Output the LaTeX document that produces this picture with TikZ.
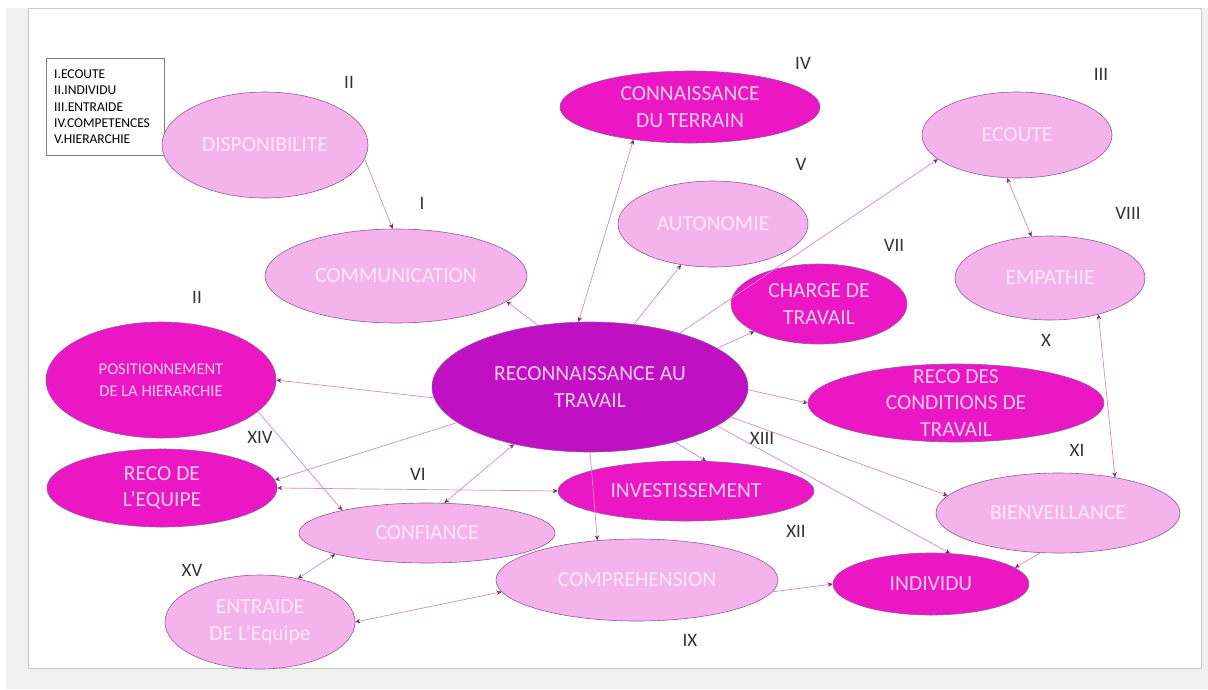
\documentclass[tikz,border=0pt]{standalone}
\usepackage{fontspec}
\setmainfont{Carlito}
\usetikzlibrary{shapes, arrows.meta, positioning}

\definecolor{pale}{HTML}{F5B3EC}
\definecolor{paletext}{HTML}{FDE8FA}
\definecolor{hot}{HTML}{EB17C4}
\definecolor{hottext}{HTML}{F9CCEF}
\definecolor{deep}{HTML}{BF10C4}
\definecolor{rim}{HTML}{8E5C9E}
\definecolor{linkcol}{HTML}{D68BC6}
\definecolor{tipcol}{HTML}{7D2A6E}
\definecolor{numcol}{HTML}{333333}
\definecolor{outside}{HTML}{F0F0F0}
\definecolor{frame}{HTML}{C8C8C8}

\begin{document}
\begin{tikzpicture}[x=1pt,y=-1pt,
soft/.style={ellipse,draw=rim,line width=.6pt,fill=pale,text=paletext,inner sep=0pt,align=center,font=\fontsize{21.5}{26.5}\selectfont},
strong/.style={soft,fill=hot,text=hottext},
core/.style={soft,fill=deep,text=hottext},
wh/.style 2 args={minimum width=#1,minimum height=#2},
num/.style={text=numcol,inner sep=0pt,font=\fontsize{19}{22}\selectfont},
link/.style={draw=linkcol,line width=.7pt,-{Stealth[length=5pt,width=4.5pt,color=tipcol]}},
twolink/.style={draw=linkcol,line width=.7pt,{Stealth[length=5pt,width=4.5pt,color=tipcol]}-{Stealth[length=5pt,width=4.5pt,color=tipcol]}}]

\useasboundingbox (0,0) rectangle (1208,689);
\fill[white] (0,0) rectangle (1208,689);
\fill[outside] (6,8) rectangle (1208,689);
\draw[frame, fill=white] (28,8) rectangle (1201,668);

% legend
\node[draw=gray, fill=white, anchor=north west, align=left, text width=102pt, minimum height=97pt,
  inner xsep=8pt, inner ysep=4pt, font=\fontsize{13.5}{16.3}\selectfont] (legend) at (46,58)
  {I.ECOUTE\\II.INDIVIDU\\III.ENTRAIDE\\IV.COMPETENCES\\V.HIERARCHIE};

% ellipses
\node[soft, wh={206pt}{106pt}] (dispo) at (265,145) {DISPONIBILITE};
\node[soft, wh={262pt}{94pt}] (comm) at (396,276) {COMMUNICATION};
\node[strong, wh={260pt}{72pt}] (terrain) at (690,107) {CONNAISSANCE\\DU TERRAIN};
\node[soft, wh={190pt}{86pt}] (auto) at (713,224) {AUTONOMIE};
\node[soft, wh={190pt}{86pt}] (ecoute) at (1017,135) {ECOUTE};
\node[soft, wh={190pt}{84pt}] (empathie) at (1050,278) {EMPATHIE};
\node[strong, wh={176pt}{80pt}] (charge) at (819,304) {CHARGE DE\\TRAVAIL};
\node[strong, wh={230pt}{116pt}, font=\fontsize{16.5}{22}\selectfont] (hier) at (161,380) {POSITIONNEMENT\\DE LA HIERARCHIE};
\node[core, wh={316pt}{130pt}] (reco) at (590,387) {RECONNAISSANCE AU\\TRAVAIL};
\node[strong, wh={296pt}{78pt}, inner ysep=-16pt] (conditions) at (956,403) {RECO DES\\CONDITIONS DE\\TRAVAIL};
\node[strong, wh={230pt}{78pt}] (equipe) at (162,488) {RECO DE\\L'EQUIPE};
\node[soft, wh={256pt}{60pt}] (confiance) at (427,533) {CONFIANCE};
\node[strong, wh={256pt}{60pt}] (invest) at (686,491) {INVESTISSEMENT};
\node[soft, wh={282pt}{82pt}] (comprehension) at (637,580) {COMPREHENSION};
\node[soft, wh={190pt}{94pt}] (entraide) at (260,622) {ENTRAIDE\\DE L'Equipe};
\node[soft, wh={244pt}{80pt}] (bienveillance) at (1058,513) {BIENVEILLANCE};
\node[strong, wh={196pt}{62pt}] (individu) at (931,584) {INDIVIDU};

% numbers
\node[num] (nII) at (349,82) {II};
\node[num] (nIV) at (803,63) {IV};
\node[num] (nIII) at (1101,74) {III};
\node[num] (nV) at (801,164) {V};
\node[num] (nI) at (422,203) {I};
\node[num] (nVII) at (894,245) {VII};
\node[num] (nVIII) at (1128,213) {VIII};
\node[num] (nIIb) at (197,297) {II};
\node[num] (nX) at (1046,340) {X};
\node[num] (nXIV) at (260,437) {XIV};
\node[num] (nXIII) at (762,438) {XIII};
\node[num] (nVI) at (418,474) {VI};
\node[num] (nXI) at (1077,450) {XI};
\node[num] (nXII) at (796,531) {XII};
\node[num] (nXV) at (192,570) {XV};
\node[num] (nIX) at (690,640) {IX};

% links
\draw[link] (dispo.-8) -- (comm.94);
\draw[link] (reco.130) -- (comm.-13);
\draw[twolink] (terrain.210) -- (reco.100);
\draw[link] (reco.55) -- (auto.232);
\draw[link] (reco.31) -- (ecoute.197);
\draw[link] (reco.17) -- (charge.203);
\draw[twolink] (ecoute.257) -- (empathie.114);
\draw[twolink] (empathie.-37) -- (bienveillance.32);
\draw[link] (reco.-1) -- (conditions.180);
\draw[link] (reco.184) -- (hier.0);
\draw[link] (reco.195) -- (equipe.4);
\draw[link] (hier.-18) -- (confiance.165);
\draw[twolink] (equipe.0) -- (invest.180);
\draw[twolink] (confiance.60) -- (reco.217);
\draw[link] (reco.-90) -- (comprehension.135);
\draw[link] (reco.-33) -- (invest.56);
\draw[link] (reco.-12) -- (bienveillance.171);
\draw[link] (reco.-17) -- (individu.58);
\draw[link] (bienveillance.246) -- (individu.11);
\draw[link] (comprehension.-5) -- (individu.180);
\draw[twolink] (confiance.193) -- (entraide.49);
\draw[twolink] (comprehension.185) -- (entraide.0);

\end{tikzpicture}
\end{document}
